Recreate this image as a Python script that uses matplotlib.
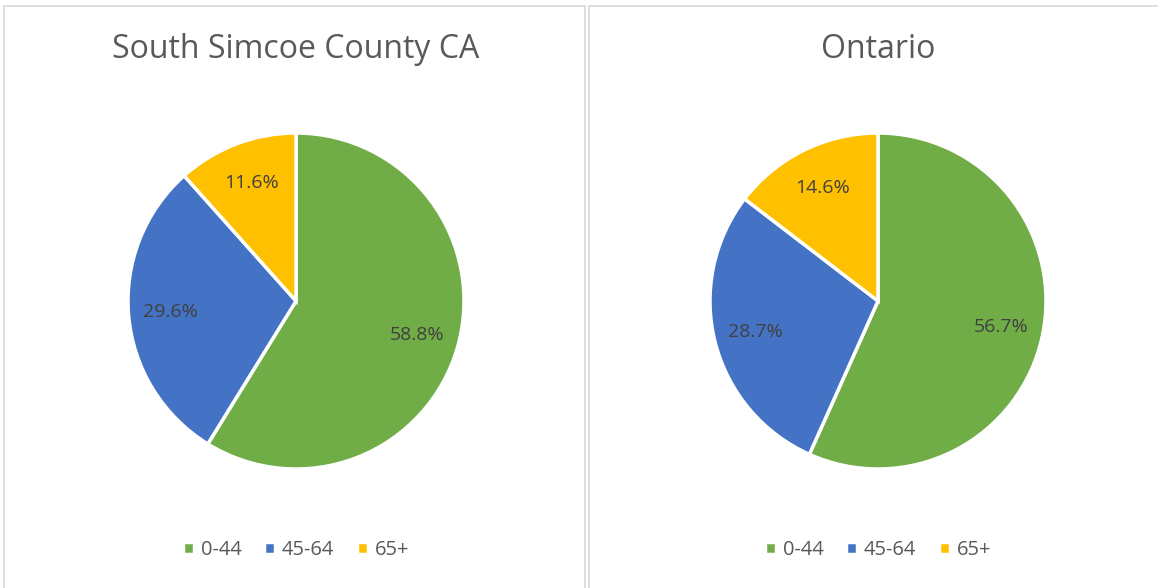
import matplotlib
matplotlib.use("Agg")
import matplotlib.pyplot as plt
from matplotlib.patches import Rectangle

plt.rcParams['font.family'] = ['Open Sans', 'DejaVu Sans']

categories = ['0-44', '45-64', '65+']
colors = ['#70AD47', '#4472C4', '#FFC000']
titles = ['South Simcoe County CA', 'Ontario']
simcoe = [58.8, 29.6, 11.6]
ontario = [56.7, 28.7, 14.6]

W, H = 1158, 588
fig = plt.figure(figsize=(W / 100, H / 100), dpi=100)

# panel borders (pixels: x0, x1)
panels = [(4, 585), (589, 1160)]
for x0, x1 in panels:
    fig.patches.append(Rectangle((x0 / W, -0.01), (x1 - x0) / W, (H - 6) / H + 0.01,
                                 transform=fig.transFigure, fill=False,
                                 edgecolor='#D9D9D9', linewidth=1.2))

centers = [296, 878]
r = 168
for cx, vals, title in zip(centers, [simcoe, ontario], titles):
    ax = fig.add_axes([(cx - r) / W, (H - 301 - r) / H, 2 * r / W, 2 * r / H])
    wedges, texts = ax.pie(vals, colors=colors, startangle=90, counterclock=False,
                           wedgeprops=dict(edgecolor='white', linewidth=2.5),
                           labels=[f'{v:.1f}%' for v in vals], labeldistance=0.75,
                           textprops=dict(color='#404040', fontsize=14))
    for t in texts:
        t.set_horizontalalignment('center')
        t.set_verticalalignment('center')
    ax.set_xlim(-1, 1)
    ax.set_ylim(-1, 1)
    ax.set_aspect('equal')
    fig.text(cx / W, 1 - 50 / H, title, ha='center', va='center',
             fontsize=23, color='#595959')
    fig.legend(wedges, categories, loc='center', bbox_to_anchor=(cx / W, 1 - 550 / H),
               ncol=3, frameon=False, fontsize=14.5, handlelength=0.55, handleheight=0.55,
               handletextpad=0.35, columnspacing=1.1, labelcolor='#595959')

fig.savefig('out.png', dpi=100)
